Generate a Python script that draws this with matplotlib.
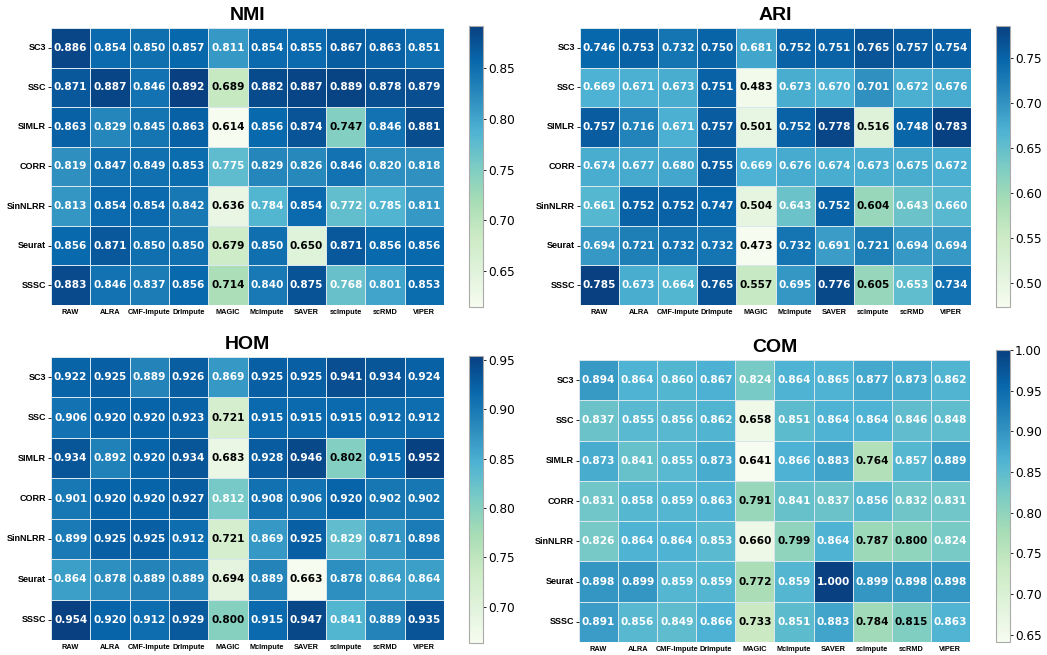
import numpy as np
import matplotlib
matplotlib.use("Agg")
import matplotlib.pyplot as plt
import seaborn as sns

methods = ["SC3", "SSC", "SIMLR", "CORR", "SinNLRR", "Seurat", "SSSC"]
imputers = ["RAW", "ALRA", "CMF-Impute", "DrImpute", "MAGIC", "McImpute",
            "SAVER", "scImpute", "scRMD", "VIPER"]

nmi = [
    [0.886, 0.854, 0.850, 0.857, 0.811, 0.854, 0.855, 0.867, 0.863, 0.851],
    [0.871, 0.887, 0.846, 0.892, 0.689, 0.882, 0.887, 0.889, 0.878, 0.879],
    [0.863, 0.829, 0.845, 0.863, 0.614, 0.856, 0.874, 0.747, 0.846, 0.881],
    [0.819, 0.847, 0.849, 0.853, 0.775, 0.829, 0.826, 0.846, 0.820, 0.818],
    [0.813, 0.854, 0.854, 0.842, 0.636, 0.784, 0.854, 0.772, 0.785, 0.811],
    [0.856, 0.871, 0.850, 0.850, 0.679, 0.850, 0.650, 0.871, 0.856, 0.856],
    [0.883, 0.846, 0.837, 0.856, 0.714, 0.840, 0.875, 0.768, 0.801, 0.853],
]

ari = [
    [0.746, 0.753, 0.732, 0.750, 0.681, 0.752, 0.751, 0.765, 0.757, 0.754],
    [0.669, 0.671, 0.673, 0.751, 0.483, 0.673, 0.670, 0.701, 0.672, 0.676],
    [0.757, 0.716, 0.671, 0.757, 0.501, 0.752, 0.778, 0.516, 0.748, 0.783],
    [0.674, 0.677, 0.680, 0.755, 0.669, 0.676, 0.674, 0.673, 0.675, 0.672],
    [0.661, 0.752, 0.752, 0.747, 0.504, 0.643, 0.752, 0.604, 0.643, 0.660],
    [0.694, 0.721, 0.732, 0.732, 0.473, 0.732, 0.691, 0.721, 0.694, 0.694],
    [0.785, 0.673, 0.664, 0.765, 0.557, 0.695, 0.776, 0.605, 0.653, 0.734],
]

hom = [
    [0.922, 0.925, 0.889, 0.926, 0.869, 0.925, 0.925, 0.941, 0.934, 0.924],
    [0.906, 0.920, 0.920, 0.923, 0.721, 0.915, 0.915, 0.915, 0.912, 0.912],
    [0.934, 0.892, 0.920, 0.934, 0.683, 0.928, 0.946, 0.802, 0.915, 0.952],
    [0.901, 0.920, 0.920, 0.927, 0.812, 0.908, 0.906, 0.920, 0.902, 0.902],
    [0.899, 0.925, 0.925, 0.912, 0.721, 0.869, 0.925, 0.829, 0.871, 0.898],
    [0.864, 0.878, 0.889, 0.889, 0.694, 0.889, 0.663, 0.878, 0.864, 0.864],
    [0.954, 0.920, 0.912, 0.929, 0.800, 0.915, 0.947, 0.841, 0.889, 0.935],
]

com = [
    [0.894, 0.864, 0.860, 0.867, 0.824, 0.864, 0.865, 0.877, 0.873, 0.862],
    [0.837, 0.855, 0.856, 0.862, 0.658, 0.851, 0.864, 0.864, 0.846, 0.848],
    [0.873, 0.841, 0.855, 0.873, 0.641, 0.866, 0.883, 0.764, 0.857, 0.889],
    [0.831, 0.858, 0.859, 0.863, 0.791, 0.841, 0.837, 0.856, 0.832, 0.831],
    [0.826, 0.864, 0.864, 0.853, 0.660, 0.799, 0.864, 0.787, 0.800, 0.824],
    [0.898, 0.899, 0.859, 0.859, 0.772, 0.859, 1.000, 0.899, 0.898, 0.898],
    [0.891, 0.856, 0.849, 0.866, 0.733, 0.851, 0.883, 0.784, 0.815, 0.863],
]

panels = [
    ("NMI", nmi, [0.0487, 0.5344, 0.3754, 0.4229], [0.448, 0.5313, 0.0134, 0.429]),
    ("ARI", ari, [0.554, 0.5344, 0.3734, 0.4229], [0.9515, 0.5313, 0.0134, 0.429]),
    ("HOM", hom, [0.0487, 0.0229, 0.3754, 0.432], [0.448, 0.0183, 0.0134, 0.438]),
    ("COM", com, [0.553, 0.0198, 0.3734, 0.4305], [0.9515, 0.0198, 0.0134, 0.4458]),
]

fig = plt.figure(figsize=(10.47, 6.55), dpi=100)

for name, vals, ax_pos, cb_pos in panels:
    data = np.array(vals)
    ax = fig.add_axes(ax_pos)
    cax = fig.add_axes(cb_pos)
    sns.heatmap(data, ax=ax, cbar_ax=cax, cmap="GnBu",
                annot=False, linewidths=0.5, linecolor="#d8e6ee",
                xticklabels=imputers, yticklabels=methods)

    # annotate: dark text only on the pale cells
    lo, hi = data.min(), data.max()
    for i in range(data.shape[0]):
        for j in range(data.shape[1]):
            v = data[i, j]
            col = "black" if (v - lo) / (hi - lo) < 0.5 else "white"
            ax.text(j + 0.5, i + 0.5, f"{v:.3f}", ha="center", va="center",
                    fontsize=7.6, fontweight="bold", color=col)

    ax.set_title(name, fontsize=14, fontweight="bold",
                 family="Liberation Sans", pad=6)
    ax.set_xticklabels(imputers, rotation=0, fontsize=5.3,
                       fontweight="bold", family="Liberation Sans")
    ax.set_yticklabels(methods, rotation=0, fontsize=6.5,
                       fontweight="bold", family="Liberation Sans")
    ax.tick_params(axis="x", length=0, pad=3)
    ax.tick_params(axis="y", length=2.5, width=0.6, pad=1)
    cax.tick_params(labelsize=8.7, length=2, width=0.6, pad=1.5)
    cb = ax.collections[0].colorbar
    cb.outline.set_visible(True)
    cb.outline.set_linewidth(0.8)
    cb.outline.set_edgecolor("#aaaaaa")

fig.savefig("out.png", dpi=100)
